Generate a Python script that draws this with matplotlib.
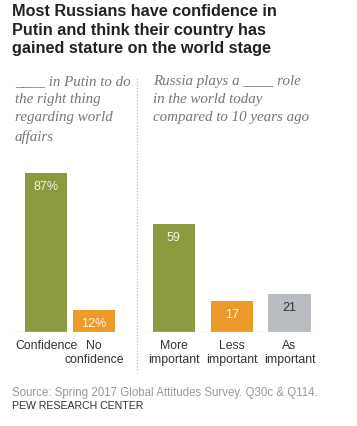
import matplotlib
matplotlib.use("Agg")
import matplotlib.pyplot as plt
from matplotlib.lines import Line2D

W, H = 357, 426

# data
left_cats = ["Confidence", "No\nconfidence"]
left_vals = [87, 12]
left_labels = ["87%", "12%"]
right_cats = ["More\nimportant", "Less\nimportant", "As\nimportant"]
right_vals = [59, 17, 21]
right_labels = ["59", "17", "21"]

GREEN = "#8a9a3f"
ORANGE = "#ec9b2b"
GRAY = "#b8bbbf"
left_colors = [GREEN, ORANGE]
right_colors = [GREEN, ORANGE, GRAY]
left_text_colors = ["#f2f2e6", "#fff4e0"]
right_text_colors = ["#f2f2e6", "#fff4e0", "#333333"]

SANS = ["Liberation Sans", "DejaVu Sans"]

fig = plt.figure(figsize=(W / 100, H / 100), dpi=100)
fig.patch.set_facecolor("white")

def fx(px):
    return px / W

def fy(py):
    return 1 - py / H

base_px = 332
top_px = 149  # 100 units

def make_ax(x0, x1):
    ax = fig.add_axes([fx(x0), fy(base_px), fx(x1) - fx(x0), (base_px - top_px) / H])
    ax.set_ylim(0, 100)
    ax.axis("off")
    return ax

axL = make_ax(15, 127)
axL.set_xlim(-0.65, 1.69)
axR = make_ax(145, 316)
axR.set_xlim(-0.50, 2.46)

def draw(ax, cats, vals, labels, colors, tcolors, width):
    xs = list(range(len(vals)))
    ax.bar(xs, vals, width=width, color=colors, zorder=2)
    lo, hi = ax.get_xlim()
    ax.add_line(Line2D([lo, hi], [0, 0], color="#cfcfcf", lw=1.0, zorder=3))
    for x, v, lab, tc in zip(xs, vals, labels, tcolors):
        ax.text(x, v - 4.5, lab, ha="center", va="top", fontsize=9,
                color=tc, family=SANS, zorder=4)
    for x, c in zip(xs, cats):
        for i, line in enumerate(c.split("\n")):
            ax.text(x, -4.2 - i * 7.8, line, ha="center", va="top", fontsize=8.8,
                    color="#333333", family=SANS, clip_on=False)

draw(axL, left_cats, left_vals, left_labels, left_colors, left_text_colors, 0.875)
draw(axR, right_cats, right_vals, right_labels, right_colors, right_text_colors, 0.73)

# separator
fig.add_artist(Line2D([fx(137), fx(137)], [fy(78), fy(372)], color="#bdbdbd",
                      lw=0.9, linestyle=(0, (1, 1.5))))

# title
fig.text(fx(12), fy(4), "Most Russians have confidence in\nPutin and think their country has\ngained stature on the world stage",
         ha="left", va="top", fontsize=11.7, fontweight="bold", color="#222222",
         family=SANS, linespacing=1.3)

# subtitles
sub_kw = dict(ha="left", va="top", fontsize=10.8, style="italic", color="#777777",
              family=["Liberation Serif", "DejaVu Serif"], linespacing=1.52)
fig.text(fx(15), fy(75), "____ in Putin to do\nthe right thing\nregarding world\naffairs", **sub_kw)
fig.text(fx(153), fy(75), "Russia plays a ____ role\nin the world today\ncompared to 10 years ago", **sub_kw)

# footer
fig.text(fx(12), fy(393), "Source: Spring 2017 Global Attitudes Survey. Q30c & Q114.",
         ha="left", va="center", fontsize=8.3, color="#9a9a9a", family=SANS)
fig.text(fx(12), fy(406), "PEW RESEARCH CENTER",
         ha="left", va="center", fontsize=7.6, color="#333333", family=SANS)

fig.savefig("out.png", dpi=100, facecolor="white")
